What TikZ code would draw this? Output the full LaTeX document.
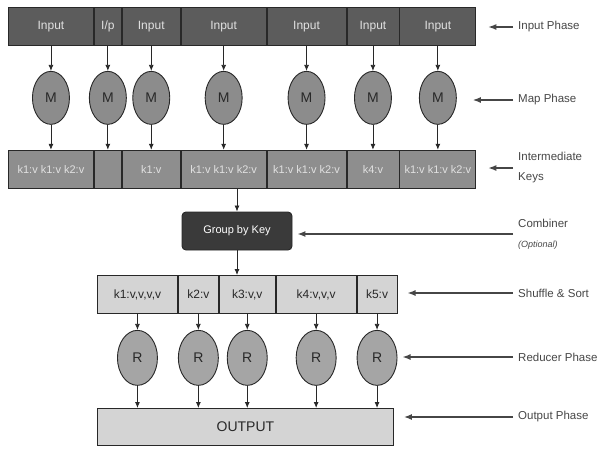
\documentclass[tikz,border=0pt]{standalone}
\usepackage{fontspec}
\setmainfont{Liberation Sans}
\usetikzlibrary{arrows.meta,positioning,shapes.geometric}
\definecolor{LineDark}{RGB}{40,40,40}
\definecolor{InDark}{RGB}{92,92,92}
\definecolor{InText}{RGB}{225,225,225}
\definecolor{MapGray}{RGB}{140,140,140}
\definecolor{KeyGray}{RGB}{142,142,142}
\definecolor{GroupDark}{RGB}{58,58,58}
\definecolor{SortLight}{RGB}{212,212,212}
\definecolor{RedGray}{RGB}{165,165,165}
\definecolor{LabelGray}{RGB}{70,70,70}

\begin{document}
\begin{tikzpicture}[
    x=1pt, y=-1pt,
    node distance=25pt and 0pt,
    cell/.style={draw=LineDark, line width=0.9pt, minimum height=38pt, inner sep=0pt,
      font=\fontsize{11}{13}\selectfont},
    inbox/.style={cell, fill=InDark, text=InText, font=\fontsize{12}{14}\selectfont},
    keybox/.style={cell, fill=KeyGray, text=InText},
    sortbox/.style={cell, fill=SortLight, text=LineDark, font=\fontsize{12}{14}\selectfont},
    grp/.style={cell, rounded corners=4pt, fill=GroupDark, text=white, minimum width=110pt},
    mapnode/.style={ellipse, draw=LineDark, line width=0.9pt, fill=MapGray, text=LineDark,
      minimum width=37pt, minimum height=53pt, inner sep=0pt, font=\fontsize{14}{16}\selectfont},
    rednode/.style={mapnode, fill=RedGray, minimum width=40pt, minimum height=55pt},
    lbl/.style={anchor=west, align=left, inner sep=2pt, text=LabelGray,
      font=\fontsize{11.5}{20}\selectfont},
    arr/.style={-{Latex[length=6pt,width=5pt]}, line width=0.8pt, draw=LineDark},
    phase/.style={-{Latex[length=8pt,width=6pt]}, line width=1.4pt, draw=LabelGray, shorten <=3pt}
  ]
    \useasboundingbox (0,0) rectangle (599,450);
    % input row
    \node[inbox, minimum width=85pt, anchor=north west] (in1) at (8,7) {Input};
    \node[inbox, minimum width=27pt, right=0pt of in1] (in2) {I/p};
    \node[inbox, minimum width=58pt, right=0pt of in2] (in3) {Input};
    \node[inbox, minimum width=85pt, right=0pt of in3] (in4) {Input};
    \node[inbox, minimum width=79pt, right=0pt of in4] (in5) {Input};
    \node[inbox, minimum width=52pt, right=0pt of in5] (in6) {Input};
    \node[inbox, minimum width=76pt, right=0pt of in6] (in7) {Input};
    % mappers
    \node[mapnode, below=of in1] (m1) {M};
    \node[mapnode, below=of in2] (m2) {M};
    \node[mapnode, below=of in3] (m3) {M};
    \node[mapnode, below=of in4] (m4) {M};
    \node[mapnode, below=of in5] (m5) {M};
    \node[mapnode, below=of in6] (m6) {M};
    \node[mapnode, below=of in7] (m7) {M};
    % intermediate keys
    \node[keybox, minimum width=85pt, below=of m1] (k1) {k1:v k1:v k2:v};
    \node[keybox, minimum width=27pt, below=of m2] (k2) {};
    \node[keybox, minimum width=58pt, below=of m3] (k3) {k1:v};
    \node[keybox, minimum width=85pt, below=of m4] (k4) {k1:v k1:v k2:v};
    \node[keybox, minimum width=79pt, below=of m5] (k5) {k1:v k1:v k2:v};
    \node[keybox, minimum width=52pt, below=of m6] (k6) {k4:v};
    \node[keybox, minimum width=76pt, below=of m7] (k7) {k1:v k1:v k2:v};
    % combiner
    \node[grp] (grp) at (237,231) {Group by Key};
    % shuffle and sort
    \node[sortbox, minimum width=80pt, anchor=north west] (s1) at (97,275) {k1:v,v,v,v};
    \node[sortbox, minimum width=40pt, right=0pt of s1] (s2) {k2:v};
    \node[sortbox, minimum width=56pt, right=0pt of s2] (s3) {k3:v,v};
    \node[sortbox, minimum width=80pt, right=0pt of s3] (s4) {k4:v,v,v};
    \node[sortbox, minimum width=40pt, right=0pt of s4] (s5) {k5:v};
    % reducers
    \node[rednode, below=16pt of s1] (r1) {R};
    \node[rednode, below=16pt of s2] (r2) {R};
    \node[rednode, below=16pt of s3] (r3) {R};
    \node[rednode, below=16pt of s4] (r4) {R};
    \node[rednode, below=16pt of s5] (r5) {R};
    \node[sortbox, minimum width=296pt, minimum height=37pt, anchor=north west,
      font=\fontsize{14}{16}\selectfont] (out) at (97,408) {OUTPUT};
    % phase labels
    \node[lbl] (lin) at (516,27) {Input Phase};
    \node[lbl] (lmap) at (516,100) {Map Phase};
    \node[lbl] (lkey) at (516,168) {Intermediate\\Keys};
    \node[lbl] (lcomb) at (516,234) {Combiner\\{\fontsize{9}{10}\selectfont\itshape (Optional)}};
    \node[lbl] (lsort) at (516,293) {Shuffle \& Sort};
    \node[lbl] (lred) at (516,357) {Reducer Phase};
    \node[lbl] (lout) at (516,417) {Output Phase};
    % connectors
    \draw[arr] (in1) -- (m1);
    \draw[arr] (in2) -- (m2);
    \draw[arr] (in3) -- (m3);
    \draw[arr] (in4) -- (m4);
    \draw[arr] (in5) -- (m5);
    \draw[arr] (in6) -- (m6);
    \draw[arr] (in7) -- (m7);
    \draw[arr] (m1) -- (k1);
    \draw[arr] (m2) -- (k2);
    \draw[arr] (m3) -- (k3);
    \draw[arr] (m4) -- (k4);
    \draw[arr] (m5) -- (k5);
    \draw[arr] (m6) -- (k6);
    \draw[arr] (m7) -- (k7);
    \draw[arr] (k4.south -| grp.north) -- (grp);
    \draw[arr] (grp) -- (grp |- s3.north);
    \draw[arr] (s1) -- (r1);
    \draw[arr] (s2) -- (r2);
    \draw[arr] (s3) -- (r3);
    \draw[arr] (s4) -- (r4);
    \draw[arr] (s5) -- (r5);
    \draw[arr] (r1) -- (r1 |- out.north);
    \draw[arr] (r2) -- (r2 |- out.north);
    \draw[arr] (r3) -- (r3 |- out.north);
    \draw[arr] (r4) -- (r4 |- out.north);
    \draw[arr] (r5) -- (r5 |- out.north);
    \draw[phase, shorten >=12pt] (lin.west) -- (lin.west -| in7.east);
    \draw[phase, shorten >=16pt] (lmap.west) -- (lmap.west -| m7.east);
    \draw[phase, shorten >=12pt] (lkey.west) -- (lkey.west -| k7.east);
    \draw[phase, shorten >=5pt] (lcomb.west) -- (lcomb.west -| grp.east);
    \draw[phase, shorten >=10pt] (lsort.west) -- (lsort.west -| s5.east);
    \draw[phase, shorten >=5pt] (lred.west) -- (lred.west -| r5.east);
    \draw[phase, shorten >=10pt] (lout.west) -- (lout.west -| out.east);
  \end{tikzpicture}
\end{document}
